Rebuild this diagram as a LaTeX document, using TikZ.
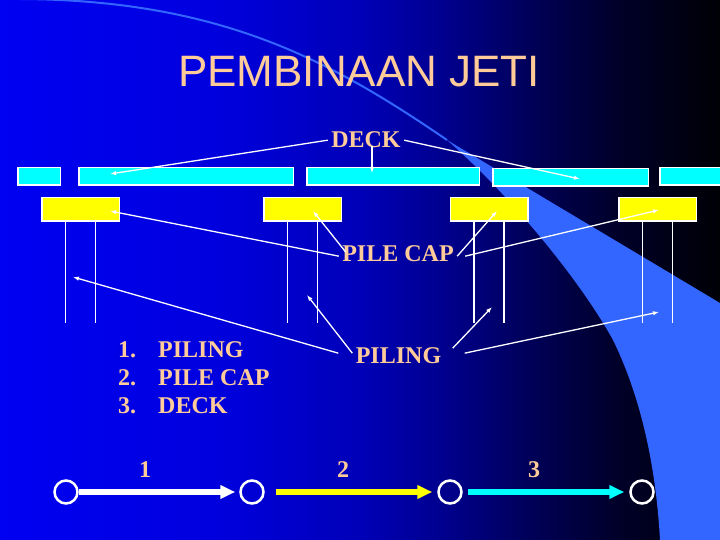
\documentclass[tikz,border=0pt]{standalone}
\usepackage{fontspec}
\setmainfont{Liberation Serif}
\newfontfamily\titlefont{Liberation Sans}
\usetikzlibrary{arrows.meta}

\definecolor{peach}{RGB}{255,204,153}
\definecolor{swoosh}{RGB}{51,102,255}
\definecolor{deckcyan}{RGB}{0,255,255}
\definecolor{capyellow}{RGB}{255,255,0}
\pgfdeclarehorizontalshading{slidebg}{100bp}{rgb(0bp)=(0,0,0.95); rgb(25bp)=(0,0,0.95); rgb(40bp)=(0,0,0.87); rgb(50bp)=(0,0,0.72); rgb(56bp)=(0,0,0.55); rgb(62bp)=(0,0,0.34); rgb(68bp)=(0,0,0.16); rgb(75bp)=(0,0,0.02); rgb(100bp)=(0,0,0.02)}

\tikzset{
	lbl/.style={text=peach, font=\fontsize{24}{28.8}\selectfont\bfseries},
	deckslab/.style={draw=white, fill=deckcyan, line width=1.5pt, minimum height=17.5pt, inner sep=0pt},
	capblock/.style={draw=white, fill=capyellow, line width=1.5pt, minimum width=77.5pt, minimum height=23.5pt, inner sep=0pt},
	pile/.style={draw=white, line width=1.6pt},
	pointer/.style={draw=white, line width=1.3pt, -{Latex[length=6pt,width=4.5pt]}},
	stage/.style={circle, draw=white, line width=2.5pt, minimum size=23pt, inner sep=0pt},
	flow/.style={line width=6pt, -{Triangle[length=15pt,width=13pt]}}
}

\begin{document}
\begin{tikzpicture}[x=1pt, y=-1pt]
		\useasboundingbox (0,0) rectangle (720,540);
		\clip (0,0) rectangle (720,540);
		
		% Hintergrund
		\shade[shading=slidebg] (0,0) rectangle (720,540);
		\draw[swoosh, line width=2pt] (20,-1) .. controls (220,0) and (330,60) .. (447,140);
		\fill[swoosh] (447,140) .. controls (510,195) and (580,280) .. (613,340) .. controls (635,385) and (655,450) .. (660,540) -- (720,540) -- (720,303) -- cycle;
		
		% Titel
		\node[text=peach, font=\titlefont\fontsize{44}{52}\selectfont, anchor=base] (title) at (359,87) {PEMBINAAN JETI};
		
		% Dek
		\foreach \n/\x/\y/\w in {1/39/176.5/42.5pt, 2/186/176.5/214.5pt, 3/393/176.5/172.5pt, 4/570.5/177.5/155.5pt, 5/690.5/176.5/61.5pt}
		\node[deckslab, minimum width=\w] (d\n) at (\x,\y) {};
		
		% Pile cap
		\foreach \n/\x in {1/80.5, 2/302.5, 3/489, 4/657.5}
		\node[capblock] (c\n) at (\x,209.5) {};
		
		% Cerucuk
		\foreach \n in {1,...,4} {
			\draw[pile] ([xshift=-15pt]c\n.south) -- ++(0,101);
			\draw[pile] ([xshift=15pt]c\n.south) -- ++(0,101);
		}
		
		% Label
		\node[lbl, anchor=base] (decklbl) at (366,148) {DECK};
		\node[lbl, anchor=base] (caplbl) at (398,261) {PILE CAP};
		\node[lbl, anchor=base] (pilelbl) at (398.5,363) {PILING};
		
		% Zielpunkte
		\coordinate (td1) at (110,174);
		\coordinate (td2) at (372,173);
		\coordinate (td3) at (580,179);
		\coordinate (tc1) at (110,211);
		\coordinate (tc2) at (313,211);
		\coordinate (tc3) at (497,211);
		\coordinate (tc4) at (659,210);
		\coordinate (tp1) at (73,277);
		\coordinate (tp2) at (307,295);
		\coordinate (tp3) at (492,307);
		\coordinate (tp4) at (659,312);
		
		% Pfeile
		\draw[pointer] (decklbl.west) -- (td1);
		\draw[pointer] ([xshift=6pt,yshift=6pt]decklbl.south) -- (td2);
		\draw[pointer] (decklbl.east) -- (td3);
		\draw[pointer] ([yshift=-3pt]caplbl.west) -- (tc1);
		\draw[pointer] ([xshift=7pt,yshift=1pt]caplbl.west) -- (tc2);
		\draw[pointer] ([yshift=-3pt]caplbl.east) -- (tc3);
		\draw[pointer] ([xshift=8pt,yshift=-3pt]caplbl.east) -- (tc4);
		\draw[pointer] ([xshift=-14pt,yshift=2pt]pilelbl.west) -- (tp1);
		\draw[pointer] ([yshift=2pt]pilelbl.west) -- (tp2);
		\draw[pointer] ([xshift=8pt,yshift=7pt]pilelbl.east) -- (tp3);
		\draw[pointer] ([xshift=20pt,yshift=2pt]pilelbl.east) -- (tp4);
		
		% Liste
		\foreach \i/\t in {1/PILING, 2/PILE CAP, 3/DECK} {
			\node[lbl, anchor=base west, inner sep=0pt] (num\i) at (118,{357+28*(\i-1)}) {\i.};
			\node[lbl, anchor=base west, inner sep=0pt] (item\i) at (158,{357+28*(\i-1)}) {\t};
		}
		
		% Ablauf
		\foreach \n/\x in {1/66, 2/252, 3/450, 4/642}
		\node[stage] (s\n) at (\x,492) {};
		\draw[flow, white, shorten >=4pt] (s1) -- (s2);
		\draw[flow, capyellow, shorten <=11pt, shorten >=5pt] (s2) -- (s3);
		\draw[flow, deckcyan, shorten <=5pt, shorten >=5pt] (s3) -- (s4);
		\node[lbl, anchor=base] (k1) at (145,477) {1};
		\node[lbl, anchor=base] (k2) at (343,477) {2};
		\node[lbl, anchor=base] (k3) at (534,477) {3};
	\end{tikzpicture}
\end{document}
